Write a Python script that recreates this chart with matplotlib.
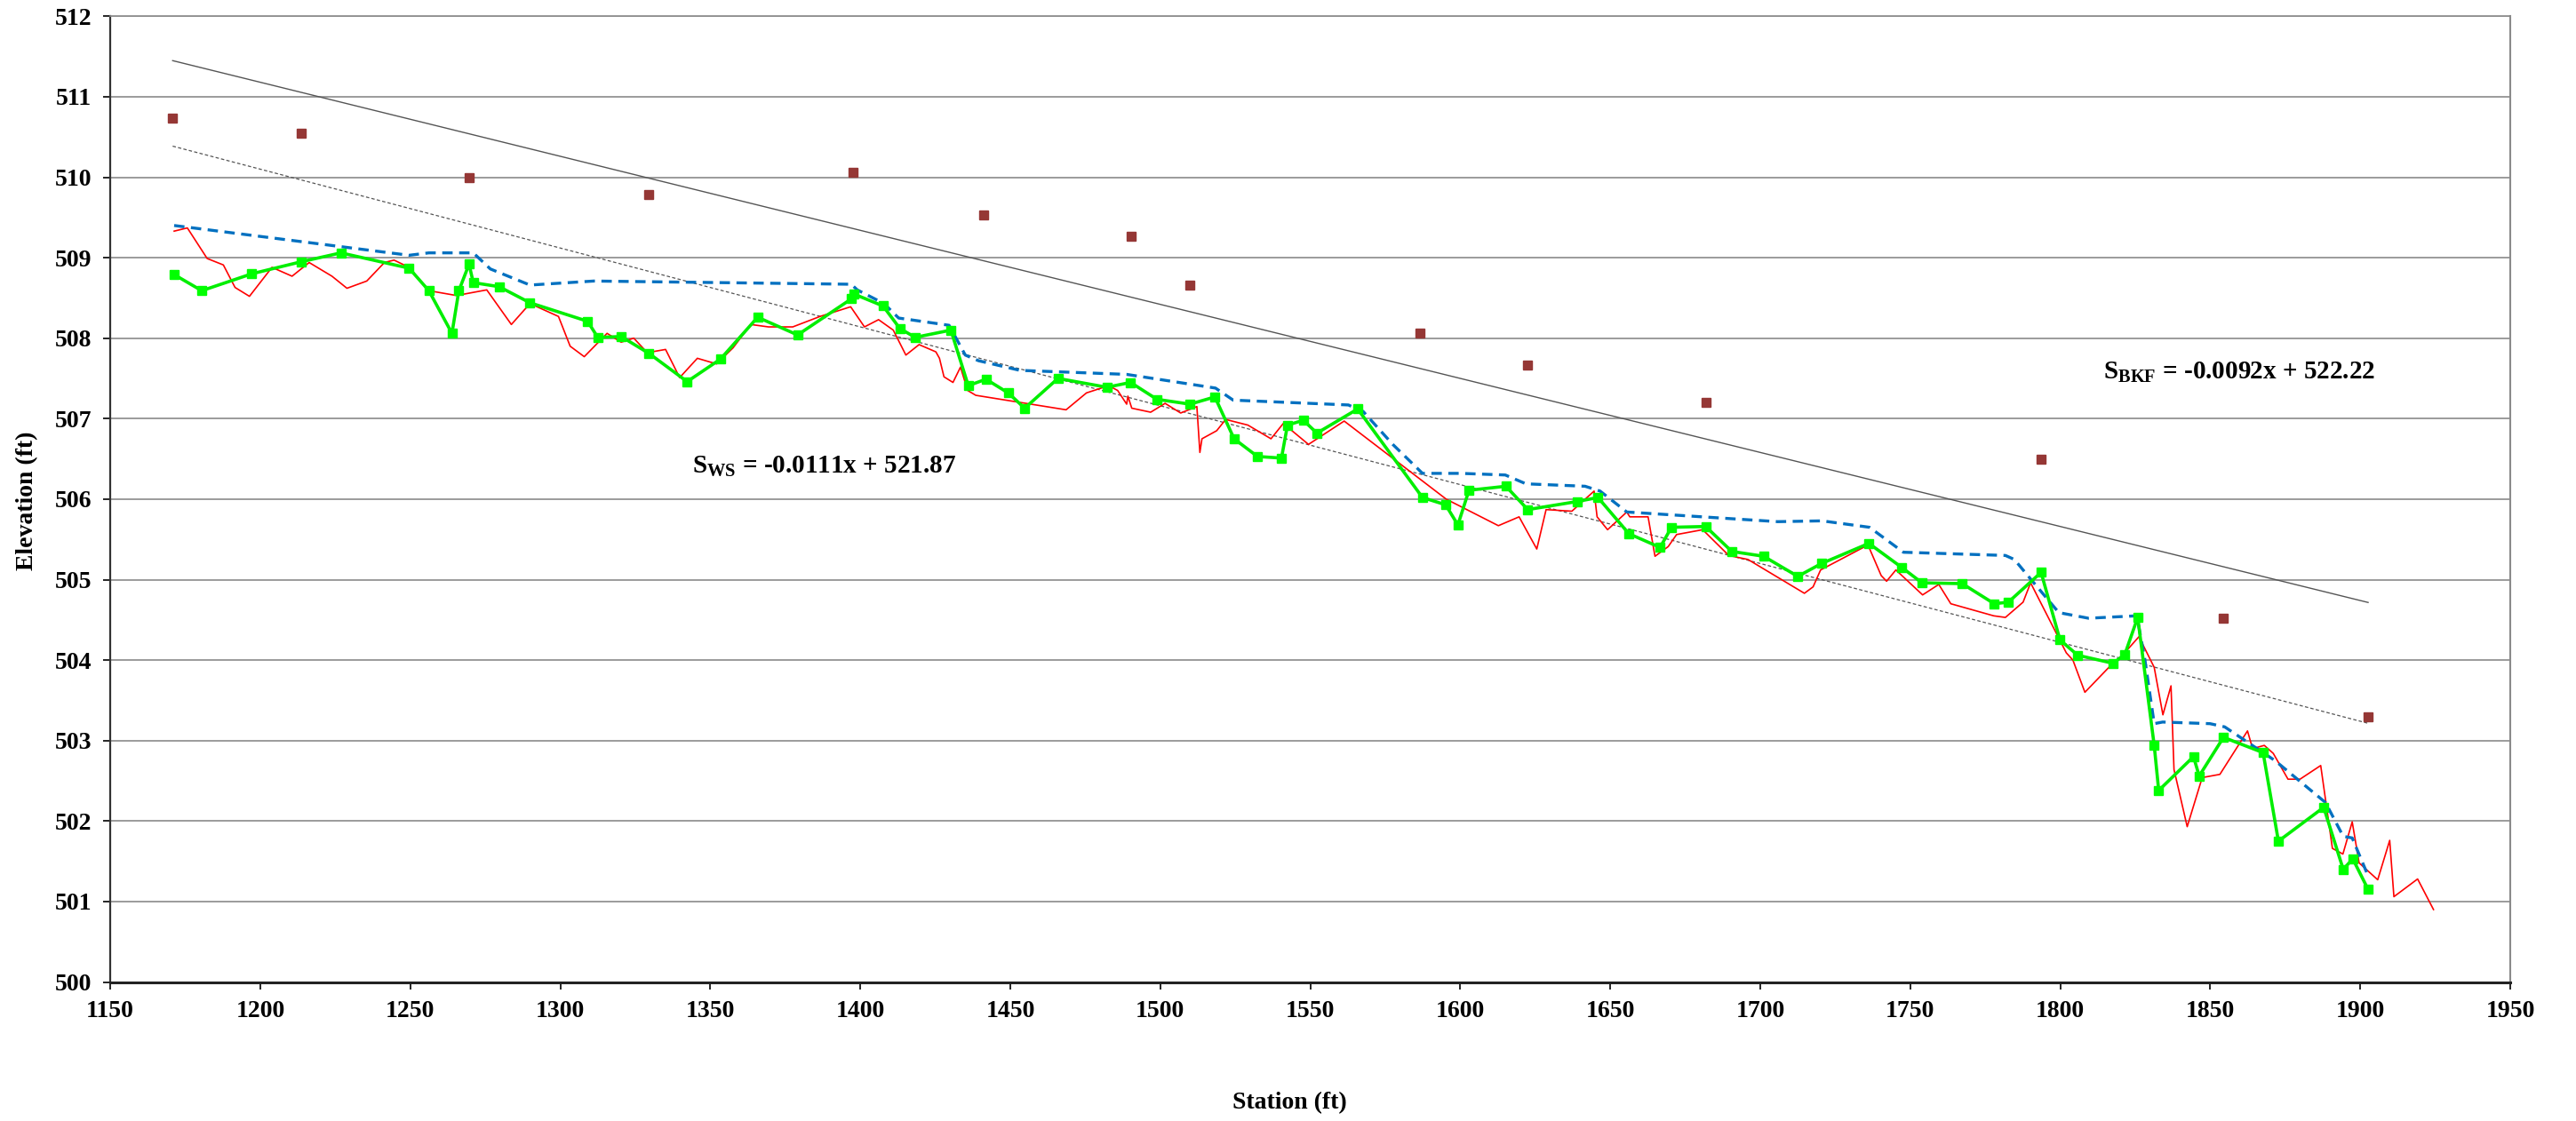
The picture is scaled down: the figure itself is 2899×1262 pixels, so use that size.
import matplotlib
matplotlib.use("Agg")
import matplotlib.pyplot as plt
import numpy as np

# ---- data ------------------------------------------------------------------
# thalweg / bed profile (thin red line)
bed_sta = [1171.3, 1175.7, 1182.3, 1187.7, 1191.6, 1196.4, 1203.9, 1210.6, 1216.3, 1223.9,
           1228.9, 1235.5, 1241.4, 1244.6, 1249.6, 1256.2, 1265.4, 1275.5, 1283.7, 1289.9,
           1299.4, 1303.3, 1308.0, 1315.6, 1320.3, 1324.5, 1329.0, 1335.1, 1339.8, 1345.7,
           1352.1, 1357.6, 1363.5, 1369.4, 1377.5, 1386.6, 1396.8, 1401.4, 1406.1, 1411.0,
           1415.2, 1419.6, 1425.2, 1426.4, 1427.9, 1430.9, 1433.4, 1435.8, 1438.5, 1468.6,
           1475.4, 1482.8, 1485.8, 1488.8, 1489.2, 1490.5, 1496.8, 1501.6, 1506.8, 1512.2,
           1513.2, 1513.9, 1518.8, 1521.8, 1529.2, 1536.9, 1541.0, 1549.4, 1561.3, 1595.3,
           1612.7, 1619.6, 1625.5, 1628.6, 1637.2, 1644.6, 1645.6, 1649.1, 1655.5, 1656.5,
           1662.6, 1664.9, 1669.3, 1672.1, 1680.8, 1689.5, 1695.9, 1714.7, 1717.6, 1720.1,
           1735.9, 1740.3, 1742.1, 1745.2, 1754.1, 1759.5, 1763.5, 1777.8, 1781.7, 1787.6,
           1790.1, 1802.0, 1804.2, 1808.2, 1816.2, 1820.5, 1826.2, 1831.3, 1834.2, 1836.9,
           1837.9, 1842.3, 1847.3, 1853.2, 1862.4, 1864.1, 1868.0, 1871.0, 1875.9, 1879.9,
           1886.8, 1890.7, 1894.2, 1897.3, 1899.6, 1905.8, 1909.8, 1911.2, 1919.1, 1924.4]
bed_elev = [509.33, 509.37, 508.99, 508.91, 508.63, 508.52, 508.88, 508.77, 508.94, 508.77,
            508.62, 508.71, 508.94, 508.97, 508.88, 508.59, 508.53, 508.60, 508.17, 508.43,
            508.27, 507.90, 507.77, 508.06, 507.95, 508.00, 507.82, 507.86, 507.51, 507.75,
            507.68, 507.88, 508.17, 508.14, 508.14, 508.27, 508.39, 508.14, 508.23, 508.10,
            507.79, 507.92, 507.83, 507.75, 507.52, 507.45, 507.64, 507.35, 507.29, 507.11,
            507.32, 507.41, 507.35, 507.18, 507.28, 507.13, 507.08, 507.19, 507.07, 507.15,
            506.58, 506.75, 506.85, 506.99, 506.92, 506.75, 506.94, 506.68, 506.97, 506.00,
            505.67, 505.78, 505.38, 505.87, 505.85, 506.10, 505.78, 505.62, 505.84, 505.78,
            505.78, 505.29, 505.41, 505.56, 505.62, 505.30, 505.25, 504.83, 504.91, 505.12,
            505.43, 505.05, 504.98, 505.12, 504.81, 504.94, 504.70, 504.55, 504.53, 504.72,
            504.96, 504.09, 504.00, 503.60, 503.91, 504.05, 504.29, 503.91, 503.32, 503.68,
            502.64, 501.93, 502.54, 502.58, 503.12, 502.90, 502.94, 502.84, 502.52, 502.52,
            502.69, 501.66, 501.59, 501.99, 501.48, 501.27, 501.76, 501.06, 501.28, 500.90]

# water surface (green with square markers)
ws_sta = [1171.3, 1180.5, 1197.2, 1213.7, 1226.9, 1249.6, 1256.2, 1263.9, 1266.2, 1269.6,
          1271.0, 1279.6, 1289.9, 1309.1, 1312.5, 1320.3, 1329.6, 1342.3, 1353.4, 1365.8,
          1379.1, 1397.1, 1397.8, 1407.6, 1413.2, 1418.3, 1430.2, 1436.0, 1441.9, 1449.3,
          1454.8, 1465.9, 1482.2, 1490.1, 1498.9, 1509.9, 1518.2, 1524.6, 1532.4, 1540.4,
          1542.4, 1547.7, 1552.2, 1565.8, 1587.4, 1595.1, 1599.2, 1602.9, 1615.2, 1622.5,
          1638.9, 1645.9, 1656.2, 1666.6, 1670.4, 1681.8, 1690.5, 1701.1, 1712.5, 1720.4,
          1736.2, 1747.2, 1753.9, 1767.3, 1778.0, 1782.7, 1793.6, 1799.9, 1805.8, 1817.6,
          1821.5, 1825.8, 1831.3, 1832.8, 1844.4, 1846.3, 1854.4, 1867.6, 1872.7, 1887.8,
          1894.3, 1897.5, 1902.6]
ws_elev = [508.79, 508.59, 508.80, 508.95, 509.06, 508.87, 508.59, 508.06, 508.59, 508.92,
           508.69, 508.64, 508.44, 508.21, 508.01, 508.02, 507.81, 507.46, 507.74, 508.26,
           508.04, 508.49, 508.55, 508.40, 508.12, 508.01, 508.10, 507.41, 507.49, 507.32,
           507.13, 507.50, 507.39, 507.45, 507.24, 507.18, 507.27, 506.75, 506.53, 506.51,
           506.92, 506.98, 506.82, 507.12, 506.02, 505.93, 505.68, 506.11, 506.16, 505.87,
           505.97, 506.02, 505.57, 505.40, 505.65, 505.66, 505.35, 505.29, 505.04, 505.20,
           505.45, 505.15, 504.96, 504.95, 504.70, 504.72, 505.09, 504.25, 504.06, 503.96,
           504.07, 504.53, 502.94, 502.38, 502.80, 502.56, 503.04, 502.85, 501.75, 502.17,
           501.40, 501.53, 501.15]

# bankfull / top of pool surface (blue dashed)
bkf_sta = [1171.3, 1249.6, 1256.2, 1271.0, 1276.7, 1289.9, 1311.2, 1397.0, 1399.0, 1407.9,
           1412.8, 1429.6, 1435.0, 1439.4, 1453.2, 1488.8, 1518.4, 1524.3, 1562.7, 1567.6,
           1577.5, 1587.4, 1600.2, 1615.0, 1621.9, 1641.6, 1646.6, 1655.5, 1705.8, 1720.6,
           1736.4, 1747.7, 1781.7, 1784.7, 1789.6, 1799.5, 1809.4, 1825.5, 1828.1, 1831.3,
           1834.1, 1849.9, 1854.8, 1871.6, 1888.4, 1894.3, 1897.3, 1902.7]
bkf_elev = [509.40, 509.03, 509.06, 509.06, 508.86, 508.66, 508.71, 508.67, 508.60, 508.43,
            508.25, 508.16, 507.79, 507.72, 507.60, 507.55, 507.38, 507.23, 507.17, 507.09,
            506.68, 506.32, 506.32, 506.30, 506.19, 506.16, 506.10, 505.84, 505.72, 505.73,
            505.65, 505.34, 505.30, 505.25, 505.03, 504.59, 504.52, 504.55, 504.03, 503.21,
            503.23, 503.21, 503.17, 502.75, 502.23, 501.81, 501.79, 501.31]

# bank elevations (brown squares)
bank_sta = [1170.8, 1213.7, 1269.6, 1329.4, 1397.7, 1441.1, 1490.3, 1509.9, 1586.7, 1622.4,
            1681.8, 1793.6, 1854.4, 1902.6]
bank_elev = [510.73, 510.55, 510.00, 509.79, 510.06, 509.53, 509.27, 508.66, 508.06, 507.67,
             507.20, 506.50, 504.52, 503.30]

# trend lines (slope, intercept)
BKF_FIT = (-0.0092, 522.22)
WS_FIT = (-0.0098, 521.86)
BKF_LABEL = r"S$_{\mathrm{BKF}}$ = -0.0092x + 522.22"
WS_LABEL = r"S$_{\mathrm{WS}}$ = -0.0111x + 521.87"

X_TICKS = list(range(1150, 1951, 50))
Y_TICKS = list(range(500, 513))

# ---- figure ------------------------------------------------------------------
plt.rcParams["font.family"] = ["Liberation Serif", "DejaVu Serif"]
plt.rcParams["font.weight"] = "bold"
plt.rcParams["mathtext.fontset"] = "custom"
plt.rcParams["mathtext.rm"] = "Liberation Serif:bold"
plt.rcParams["mathtext.bf"] = "Liberation Serif:bold"

fig = plt.figure(figsize=(28.99, 12.62), dpi=100)
ax = fig.add_axes([0.0428, 0.124, 0.9317, 0.8615])

ax.set_xlim(1150, 1950)
ax.set_ylim(500, 512)
ax.set_xticks(X_TICKS)
ax.set_yticks(Y_TICKS)
ax.grid(axis="y", color="#8a8a8a", lw=1.2, zorder=0)
ax.tick_params(direction="out", length=6, width=1.2, labelsize=20, pad=9,
               colors="black")
for lab in ax.get_xticklabels() + ax.get_yticklabels():
    lab.set_fontweight("bold")
ax.spines["top"].set_color("#8a8a8a")
ax.spines["top"].set_linewidth(1.2)
ax.spines["right"].set_color("#8a8a8a")
ax.spines["right"].set_linewidth(1.5)
ax.spines["left"].set_color("#333333")
ax.spines["left"].set_linewidth(1.6)
ax.spines["bottom"].set_color("#222222")
ax.spines["bottom"].set_linewidth(2.2)

# trend lines across the surveyed reach
xs = np.array([min(bank_sta), max(bank_sta)])
ax.plot(xs, BKF_FIT[0] * xs + BKF_FIT[1], color="#555555", lw=1.0, zorder=2)
ax.plot(xs, WS_FIT[0] * xs + WS_FIT[1], color="#555555", lw=0.9,
        ls=(0, (3, 2)), zorder=2)

ax.plot(bed_sta, bed_elev, color="#ff0000", lw=1.2, zorder=3)
ax.plot(bkf_sta, bkf_elev, color="#0070c0", lw=2.4, ls=(0, (3.5, 2.2)), zorder=4)
ax.plot(ws_sta, ws_elev, color="#00ee00", lw=2.6, marker="s", ms=7.5,
        mfc="#00ff00", mec="#00ff00", zorder=5)
ax.plot(bank_sta, bank_elev, ls="none", marker="s", ms=7, color="#953735", zorder=6)

ax.text(1344.0, 506.33, WS_LABEL, fontsize=21, fontweight="bold", va="baseline")
ax.text(1814.3, 507.50, BKF_LABEL, fontsize=21, fontweight="bold", va="baseline")

fig.text(31 / 2899, 1 - 564 / 1262, "Elevation (ft)", rotation=90, fontsize=20,
         fontweight="bold", ha="center", va="center")
fig.text(1451 / 2899, 1 - 1242 / 1262, "Station (ft)", fontsize=20,
         fontweight="bold", ha="center", va="center")

fig.savefig("out.png", dpi=100)
